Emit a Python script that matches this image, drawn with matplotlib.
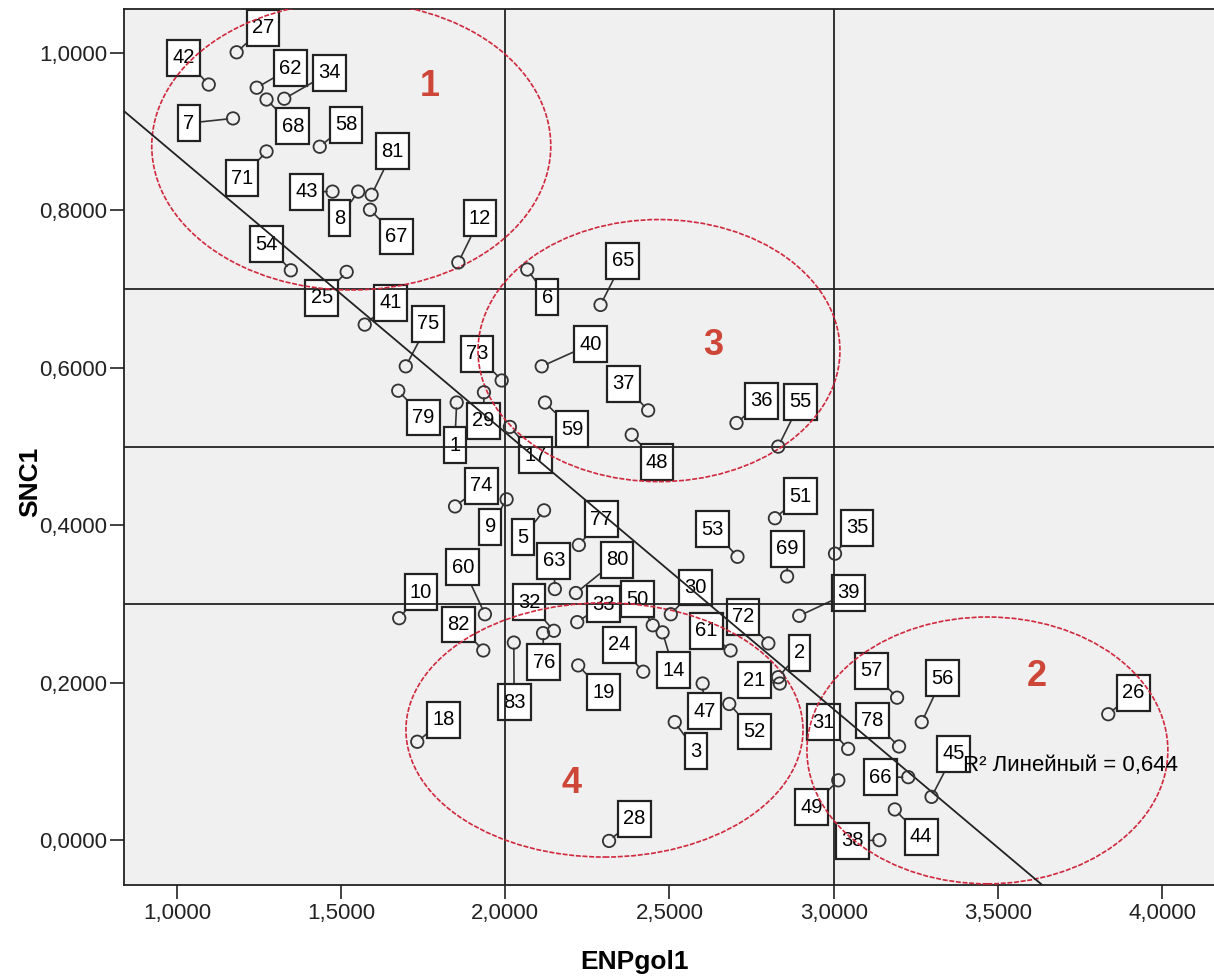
import numpy as np
import matplotlib
matplotlib.use('Agg')
import matplotlib.pyplot as plt
from matplotlib.patches import Ellipse
from matplotlib.path import Path
from matplotlib.ticker import FuncFormatter

plt.rcParams['font.family'] = ['Liberation Sans', 'DejaVu Sans']

# case labels, ENPgol1, SNC1
labels = ['27', '42', '62', '68', '34', '7', '58', '71', '43', '8', '81', '67', '12', '54', '25',
          '41', '75', '79', '1', '29', '73', '17', '6', '65', '40', '59', '37', '48', '36', '55',
          '74', '9', '5', '77', '63', '80', '53', '51', '69', '35', '39', '60', '10', '82', '32',
          '76', '83', '33', '50', '14', '30', '24', '19', '61', '72', '2', '21', '47', '3', '52',
          '18', '28', '57', '56', '31', '78', '49', '66', '45', '44', '38', '26']
enp = [1.182, 1.097, 1.243, 1.273, 1.327, 1.171, 1.435, 1.273, 1.474, 1.552, 1.593, 1.588, 1.857, 1.347, 1.517,
       1.572, 1.697, 1.674, 1.852, 1.935, 1.989, 2.014, 2.067, 2.290, 2.111, 2.121, 2.435, 2.385, 2.704, 2.831,
       1.847, 2.004, 2.118, 2.224, 2.151, 2.215, 2.707, 2.821, 2.858, 3.004, 2.895, 1.938, 1.677, 1.933, 2.148,
       2.115, 2.026, 2.219, 2.449, 2.479, 2.504, 2.420, 2.222, 2.686, 2.801, 2.831, 2.836, 2.601, 2.516, 2.682,
       1.732, 2.316, 3.193, 3.268, 3.044, 3.199, 3.014, 3.227, 3.298, 3.186, 3.139, 3.836]
snc = [1.001, 0.960, 0.956, 0.941, 0.942, 0.917, 0.881, 0.875, 0.824, 0.824, 0.820, 0.801, 0.734, 0.724, 0.722,
       0.655, 0.602, 0.571, 0.556, 0.569, 0.584, 0.525, 0.725, 0.680, 0.602, 0.556, 0.546, 0.515, 0.530, 0.500,
       0.424, 0.433, 0.419, 0.375, 0.319, 0.314, 0.360, 0.409, 0.335, 0.364, 0.285, 0.287, 0.282, 0.241, 0.266,
       0.263, 0.251, 0.277, 0.273, 0.264, 0.287, 0.214, 0.222, 0.241, 0.250, 0.207, 0.199, 0.199, 0.150, 0.173,
       0.125, -0.001, 0.181, 0.150, 0.116, 0.119, 0.076, 0.080, 0.055, 0.039, 0.000, 0.160]
# where each label box sits
label_x = [1.262, 1.021, 1.346, 1.353, 1.465, 1.037, 1.515, 1.198, 1.394, 1.495, 1.657, 1.669, 1.923, 1.274, 1.441,
           1.651, 1.765, 1.751, 1.846, 1.934, 1.914, 2.091, 2.128, 2.358, 2.260, 2.203, 2.359, 2.462, 2.781, 2.899,
           1.927, 1.954, 2.054, 2.293, 2.148, 2.340, 2.631, 2.899, 2.860, 3.071, 3.044, 1.871, 1.743, 1.858, 2.072,
           2.117, 2.027, 2.299, 2.403, 2.513, 2.580, 2.347, 2.299, 2.612, 2.724, 2.896, 2.758, 2.606, 2.580, 2.758,
           1.812, 2.393, 3.115, 3.331, 2.968, 3.118, 2.933, 3.142, 3.366, 3.266, 3.058, 3.913]
label_y = [1.032, 0.994, 0.981, 0.907, 0.975, 0.911, 0.909, 0.841, 0.824, 0.790, 0.875, 0.767, 0.790, 0.757, 0.689,
           0.683, 0.656, 0.537, 0.502, 0.533, 0.618, 0.489, 0.690, 0.736, 0.630, 0.522, 0.580, 0.480, 0.558, 0.557,
           0.450, 0.398, 0.385, 0.408, 0.355, 0.356, 0.395, 0.437, 0.370, 0.397, 0.314, 0.347, 0.315, 0.274, 0.302,
           0.226, 0.175, 0.300, 0.306, 0.216, 0.321, 0.248, 0.188, 0.266, 0.284, 0.238, 0.203, 0.164, 0.113, 0.138,
           0.153, 0.027, 0.215, 0.206, 0.150, 0.152, 0.042, 0.080, 0.110, 0.004, -0.001, 0.187]

# reference lines
x_refs = [2.0, 3.0]
y_refs = [0.3, 0.5, 0.7]

# groups drawn on the chart: name, centre x, centre y, width, height, label x, label y
groups = ['1', '3', '4', '2']
group_cx = [1.531, 2.468, 2.302, 3.468]
group_cy = [0.882, 0.622, 0.140, 0.114]
group_w = [1.215, 1.102, 1.209, 1.099]
group_h = [0.366, 0.333, 0.323, 0.339]
group_lx = [1.770, 2.632, 2.203, 3.619]
group_ly = [0.957, 0.628, 0.072, 0.208]

x_ticks = [1.0, 1.5, 2.0, 2.5, 3.0, 3.5, 4.0]
y_ticks = [0.0, 0.2, 0.4, 0.6, 0.8, 1.0]


def tall_box(x0, y0, width, height, mutation_size):
    # spss style label box: a bit taller than wide padding
    px = 0.26 * mutation_size
    py = 0.42 * mutation_size
    x0, y0 = x0 - px, y0 - py
    w, h = width + 2 * px, height + 2 * py
    return Path([(x0, y0), (x0 + w, y0), (x0 + w, y0 + h), (x0, y0 + h), (x0, y0)], closed=True)


fig = plt.figure(figsize=(12.14, 9.77), dpi=100)
ax = fig.add_axes([124/1214, 92/977, 1090/1214, 876/977])
ax.set_facecolor('#f0f0f0')
ax.set_xlim(0.839, 4.158)
ax.set_ylim(-0.057, 1.056)

for xv in x_refs:
    ax.axvline(xv, color='#222222', lw=1.3, zorder=3)
for yv in y_refs:
    ax.axhline(yv, color='#222222', lw=1.3, zorder=3)

for i in range(len(groups)):
    e = Ellipse((group_cx[i], group_cy[i]), group_w[i], group_h[i], fill=False,
                ec='#d0283c', lw=1.2, ls=(0, (3, 1)), zorder=3)
    ax.add_patch(e)
    ax.text(group_lx[i], group_ly[i], groups[i], color='#cd4637', fontsize=26,
            fontweight='bold', ha='center', va='center', zorder=3)

# linear fit
slope, inter = np.polyfit(enp, snc, 1)
xs = np.array(ax.get_xlim())
ax.plot(xs, inter + slope * xs, color='#222222', lw=1.3, zorder=3)

for i in range(len(labels)):
    ax.annotate(labels[i], xy=(enp[i], snc[i]), xytext=(label_x[i], label_y[i]),
                ha='center', va='center', fontsize=14.5, zorder=2,
                bbox=dict(boxstyle=tall_box, fc='white', ec='#222222', lw=1.6),
                arrowprops=dict(arrowstyle='-', color='#333333', lw=1.2, shrinkA=0, shrinkB=4))

ax.scatter(enp, snc, s=80, facecolors='none', edgecolors='#333333', linewidths=1.3, zorder=4)

ax.text(3.393, 0.095, 'R² Линейный = 0,644', fontsize=16, ha='left', va='center', zorder=5)

ax.set_xticks(x_ticks)
ax.set_yticks(y_ticks)
fmt = FuncFormatter(lambda v, p: f'{v:.4f}'.replace('.', ','))
ax.xaxis.set_major_formatter(fmt)
ax.yaxis.set_major_formatter(fmt)
ax.tick_params(axis='both', labelsize=16, length=10, width=1.2, color='#222222', labelcolor='#222222')
ax.tick_params(axis='x', pad=3)
ax.tick_params(axis='y', pad=2)
for s in ['left', 'bottom', 'top']:
    ax.spines[s].set_linewidth(1.3)
    ax.spines[s].set_color('#222222')
ax.spines['right'].set_visible(False)

ax.set_xlabel('ENPgol1', fontsize=19, fontweight='bold')
ax.set_ylabel('SNC1', fontsize=19, fontweight='bold')
ax.xaxis.set_label_coords(0.468, -0.088)
ax.xaxis.label.set_va('center')
ax.yaxis.set_label_coords(-0.086, 0.46)
ax.yaxis.label.set_va('center')

fig.savefig('out.png', dpi=100)
